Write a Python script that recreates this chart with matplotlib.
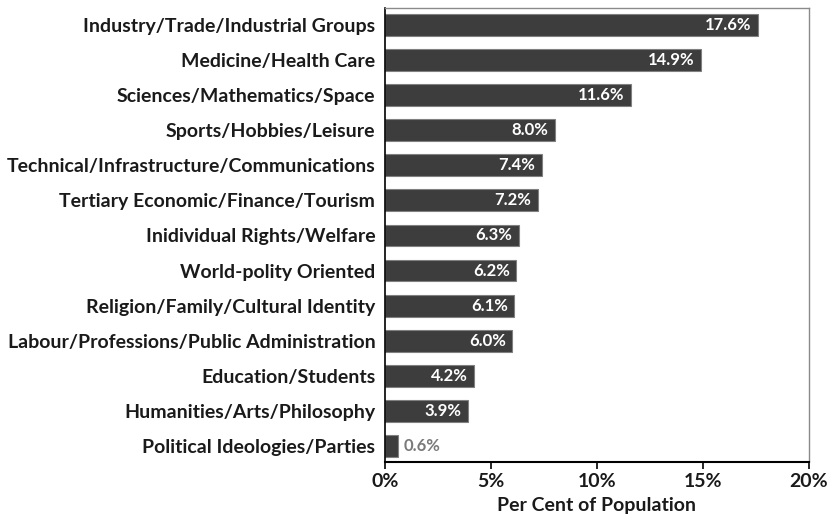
import matplotlib.pyplot as plt
import numpy as np

categories = ["Industry/Trade/Industrial Groups", "Medicine/Health Care",
              "Sciences/Mathematics/Space", "Sports/Hobbies/Leisure",
              "Technical/Infrastructure/Communications",
              "Tertiary Economic/Finance/Tourism", "Inidividual Rights/Welfare",
              "World-polity Oriented", "Religion/Family/Cultural Identity",
              "Labour/Professions/Public Administration", "Education/Students",
              "Humanities/Arts/Philosophy", "Political Ideologies/Parties"]
values = [17.6, 14.9, 11.6, 8.0, 7.4, 7.2, 6.3, 6.2, 6.1, 6.0, 4.2, 3.9, 0.6]
xticks = [0, 5, 10, 15, 20]

plt.rcParams['font.family'] = ['Lato', 'DejaVu Sans']
plt.rcParams['font.weight'] = 'bold'

fig = plt.figure(figsize=(8.28, 5.25), dpi=100)
ax = fig.add_axes([0.465, 0.12, 0.512, 0.865])

y = np.arange(len(categories))
ax.barh(y, values, height=0.62, color='#3d3d3d', edgecolor='#808080', linewidth=0.8)

for yi, v in zip(y, values):
    if v > 2:
        ax.text(v - 0.3, yi, f"{v:.1f}%", ha='right', va='center', color='white',
                fontsize=12, fontweight='bold')
    else:
        ax.text(v + 0.3, yi, f"{v:.1f}%", ha='left', va='center', color='#7a7a7a',
                fontsize=12, fontweight='bold')

ax.set_yticks(y)
ax.set_yticklabels(categories, fontsize=14, fontweight='bold', color='#1a1a1a')
ax.tick_params(axis='y', length=0, pad=7)
ax.set_ylim(12.45, -0.48)

ax.set_xlim(0, 20)
ax.set_xticks(xticks)
ax.set_xticklabels([f"{t}%" for t in xticks], fontsize=14, fontweight='bold', color='#1a1a1a')
ax.tick_params(axis='x', direction='out', length=5, width=1.2, pad=3)
ax.set_xlabel("Per Cent of Population", fontsize=14, fontweight='bold', color='#1a1a1a', labelpad=5)

for s in ['top', 'right']:
    ax.spines[s].set_color('#8a8a8a')
    ax.spines[s].set_linewidth(1.0)
ax.spines['bottom'].set_color('black')
ax.spines['bottom'].set_linewidth(1.5)
ax.spines['left'].set_color('black')
ax.spines['left'].set_linewidth(1.2)

fig.savefig("out.png", dpi=100)
